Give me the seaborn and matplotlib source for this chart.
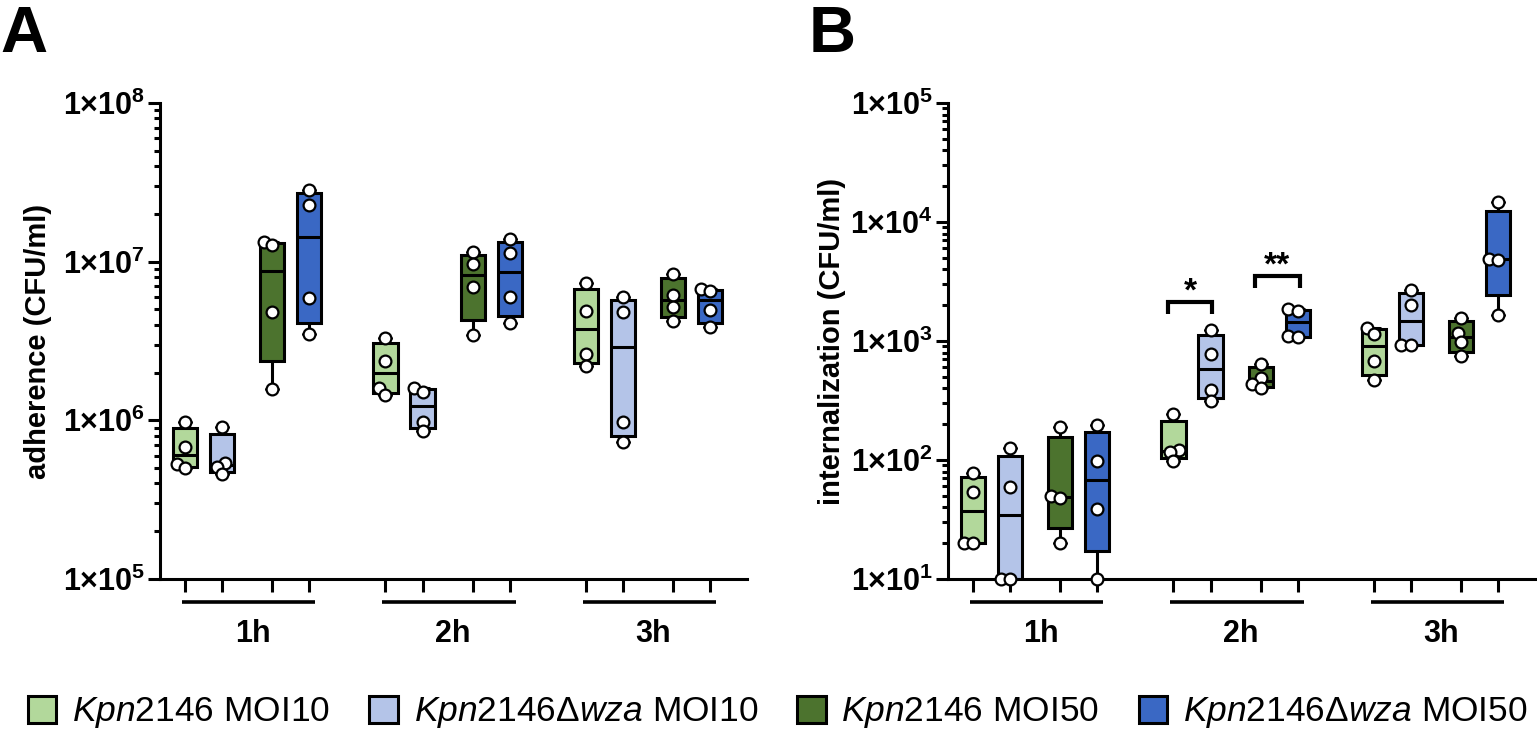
import numpy as np
import pandas as pd
import matplotlib
matplotlib.use("Agg")
import matplotlib.pyplot as plt
import matplotlib.transforms as mtransforms
from matplotlib.patches import Patch
from matplotlib.ticker import FuncFormatter, LogLocator, NullFormatter
import seaborn as sns

# === Data (CFU/ml, 4 replicates per box) ===
timepoints = ["1h", "2h", "3h"]
strains = ["Kpn2146 MOI10", "Kpn2146Δwza MOI10", "Kpn2146 MOI50", "Kpn2146Δwza MOI50"]

# adherence, one list per timepoint
adh_wt10 = [[9.7e5, 6.8e5, 5.3e5, 5.0e5], [3.3e6, 2.35e6, 1.6e6, 1.45e6], [7.3e6, 4.9e6, 2.6e6, 2.2e6]]
adh_wza10 = [[9.1e5, 5.4e5, 5.1e5, 4.6e5], [1.6e6, 1.5e6, 9.8e5, 8.6e5], [6.0e6, 4.8e6, 9.8e5, 7.3e5]]
adh_wt50 = [[1.33e7, 1.27e7, 4.8e6, 1.57e6], [1.15e7, 9.6e6, 6.9e6, 3.45e6], [8.4e6, 6.2e6, 5.2e6, 4.2e6]]
adh_wza50 = [[2.83e7, 2.27e7, 5.9e6, 3.5e6], [1.39e7, 1.13e7, 6.0e6, 4.1e6], [6.7e6, 6.5e6, 4.95e6, 3.85e6]]

# internalization, one list per timepoint
int_wt10 = [[78, 54, 20, 20], [245, 122, 116, 99], [1290, 1140, 677, 469]]
int_wza10 = [[125, 59, 10, 10], [1230, 771, 386, 316], [2680, 2000, 930, 920]]
int_wt50 = [[190, 50, 48, 20], [640, 491, 431, 404], [1570, 1160, 986, 746]]
int_wza50 = [[198, 98, 39, 10], [1850, 1800, 1100, 1080], [14800, 4900, 4800, 1640]]

palette = {
    "Kpn2146 MOI10": "#B2D89B",
    "Kpn2146Δwza MOI10": "#B4C4E8",
    "Kpn2146 MOI50": "#4C732E",
    "Kpn2146Δwza MOI50": "#3A68C4",
}
legend_labels = [
    r"$\mathit{Kpn}$2146 MOI10",
    r"$\mathit{Kpn}$2146Δ$\mathit{wza}$ MOI10",
    r"$\mathit{Kpn}$2146 MOI50",
    r"$\mathit{Kpn}$2146Δ$\mathit{wza}$ MOI50",
]

# layout of the box slots inside a timepoint group
OFFSETS = [0, 1, 2.35, 3.35]
GROUP_STEP = 5.4


def slot(g, s):
    return g * GROUP_STEP + OFFSETS[s]


def to_long(series):
    rows = []
    for s, (name, per_time) in enumerate(zip(strains, series)):
        for g, vals in enumerate(per_time):
            for v in vals:
                rows.append({"strain": name, "time": timepoints[g], "pos": slot(g, s), "value": v})
    return pd.DataFrame(rows)


def summarise(df):
    # box = quartiles like GraphPad (n+1 method), whiskers min..max
    rows = []
    for (name, pos), grp in df.groupby(["strain", "pos"]):
        for q in np.percentile(grp["value"], [0, 25, 50, 75, 100], method="weibull"):
            rows.append({"strain": name, "pos": pos, "value": q})
    return pd.DataFrame(rows)


sns.set_style("ticks")
plt.rcParams["font.family"] = ["Liberation Sans", "DejaVu Sans"]
plt.rcParams["mathtext.fontset"] = "custom"
plt.rcParams["mathtext.rm"] = "Liberation Sans"
plt.rcParams["mathtext.it"] = "Liberation Sans:italic"
plt.rcParams["mathtext.bf"] = "Liberation Sans:bold"
for key in ["text.color", "axes.labelcolor", "xtick.color", "ytick.color", "axes.edgecolor"]:
    plt.rcParams[key] = "black"

LW = 2.2
swarms = []


def draw_panel(ax, df, ylim, ylabel, label_x):
    ax.set_yscale("log")
    sns.boxplot(data=summarise(df), x="pos", y="value", hue="strain", hue_order=strains,
                palette=palette, native_scale=True, orient="x", whis=(0, 100), width=0.65,
                saturation=1, linecolor="black", linewidth=LW, showfliers=False,
                legend=False, ax=ax)
    # swarm laid out with small markers so the final circles overlap a bit, like GraphPad
    n_before = len(ax.collections)
    sns.swarmplot(data=df, x="pos", y="value", native_scale=True, orient="x", color="white",
                  edgecolor="black", linewidth=1.6, size=4.8, zorder=4, clip_on=False,
                  warn_thresh=1, ax=ax)
    swarms.extend(ax.collections[n_before:])

    ax.set_ylim(*ylim)
    ax.set_xlim(-0.68, 15.15)
    ax.yaxis.set_major_locator(LogLocator(base=10, numticks=10))
    ax.yaxis.set_minor_locator(LogLocator(base=10, subs=np.arange(2, 10), numticks=10))
    ax.yaxis.set_minor_formatter(NullFormatter())
    ax.yaxis.set_major_formatter(
        FuncFormatter(lambda v, _: r"$\mathbf{1×10^{%d}}$" % round(np.log10(v))))
    ax.set_xticks([slot(g, s) for g in range(3) for s in range(4)])
    ax.tick_params(axis="x", length=9.4, width=LW, labelbottom=False)
    ax.tick_params(axis="y", which="major", length=8.6, width=LW, labelsize=22, pad=2)
    ax.tick_params(axis="y", which="minor", length=4.3, width=LW)
    sns.despine(ax=ax)
    for sp in ["left", "bottom"]:
        ax.spines[sp].set_linewidth(LW)

    ax.set_xlabel("")
    ax.set_ylabel(ylabel, fontsize=21, fontweight="bold")
    ax.yaxis.set_label_coords(label_x, 0.5)

    # timepoint group bars and labels under the axis
    trans = mtransforms.blended_transform_factory(ax.transData, ax.transAxes)
    for g, tp in enumerate(timepoints):
        x0, x1 = slot(g, 0) - 0.08, slot(g, 3) + 0.16
        ax.plot([x0, x1], [-0.048, -0.048], transform=trans, color="black", lw=2.6,
                clip_on=False, solid_capstyle="butt")
        ax.text((x0 + x1) / 2 + 0.1, -0.115, tp, transform=trans, ha="center",
                va="center", fontsize=22, fontweight="bold")


fig = plt.figure(figsize=(15.37, 7.37), dpi=100)
axA = fig.add_axes([160 / 1537, 158 / 737, 587 / 1537, 476 / 737])
axB = fig.add_axes([948 / 1537, 158 / 737, 587 / 1537, 476 / 737])

adherence = to_long([adh_wt10, adh_wza10, adh_wt50, adh_wza50])
internalization = to_long([int_wt10, int_wza10, int_wt50, int_wza50])

draw_panel(axA, adherence, (1e5, 1e8), "adherence (CFU/ml)", -0.184)
draw_panel(axB, internalization, (1e1, 1e5), "internalization (CFU/ml)", -0.173)

# significance brackets in panel B: (group, strain a, strain b, stars, top, leg end)
sig_brackets = [(1, 0, 1, "*", 2140, 1680), (1, 2, 3, "**", 3520, 2810)]
for g, a, b, stars, top, low in sig_brackets:
    xa, xb = slot(g, a) - 0.15, slot(g, b) + 0.05
    axB.plot([xa, xa, xb, xb], [low, top, top, low], color="black", lw=3,
             solid_joinstyle="miter", solid_capstyle="butt", zorder=5)
    axB.text((xa + xb) / 2, top * 1.02, stars, ha="center", va="baseline",
             fontsize=24, fontweight="bold")

fig.text(0.0, 0.929, "A", fontsize=47, fontweight="bold", ha="left", va="baseline")
fig.text(0.526, 0.929, "B", fontsize=47, fontweight="bold", ha="left", va="baseline")

handles = [Patch(facecolor=palette[s], edgecolor="black", linewidth=LW) for s in strains]
fig.legend(handles, legend_labels, loc="center", bbox_to_anchor=(0.506, 24 / 737), ncol=4,
           frameon=False, fontsize=25.5, handlelength=0.8, handleheight=0.8,
           handletextpad=0.45, columnspacing=1.1, borderaxespad=0)

# fix the swarm layout, then enlarge the circles without re-swarming
fig.canvas.draw()
for coll in swarms:
    if "draw" in vars(coll):
        del coll.draw
    coll.set_sizes([8.5 ** 2])

fig.savefig("out.png", dpi=100)
